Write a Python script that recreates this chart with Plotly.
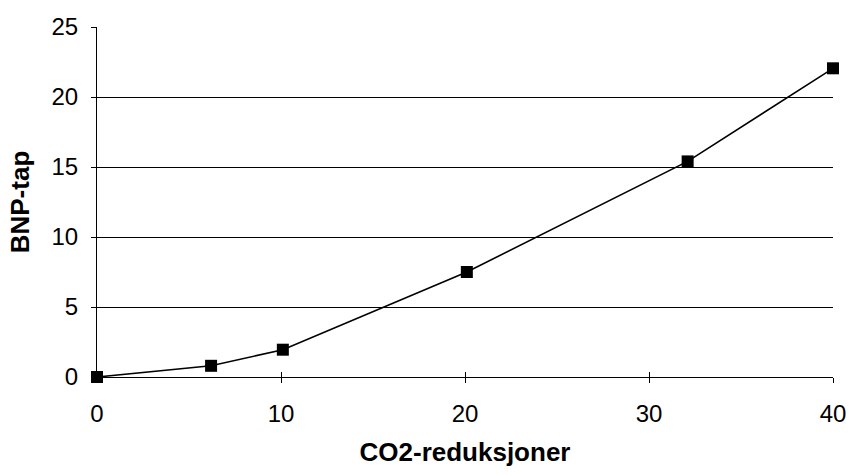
import plotly.graph_objects as go

# CO2 reductions vs. GDP loss
co2_reduction = [0, 6.2, 10.1, 20.1, 32.1, 40]
gdp_loss = [0, 0.8, 1.95, 7.5, 15.4, 22.05]

x_ticks = [0, 10, 20, 30, 40]
y_ticks = [0, 5, 10, 15, 20, 25]

FONT = "Century Gothic, Liberation Sans, Arial, sans-serif"

fig = go.Figure()
fig.add_trace(go.Scatter(
    x=co2_reduction,
    y=gdp_loss,
    mode="lines+markers",
    line=dict(color="black", width=1.6),
    marker=dict(symbol="square", size=12, color="black"),
    cliponaxis=False,
    showlegend=False,
))

fig.update_layout(
    width=850,
    height=476,
    margin=dict(l=97, r=17, t=27, b=99),
    paper_bgcolor="white",
    plot_bgcolor="white",
    font=dict(family=FONT, color="black", size=24),
    xaxis=dict(
        range=[0, 40],
        tickvals=x_ticks,
        ticks="outside",
        ticklen=5,
        tickcolor="black",
        tickwidth=1,
        showgrid=False,
        zeroline=False,
        showline=True,
        linecolor="black",
        linewidth=1,
        automargin=False,
        ticklabelstandoff=10,
        tickfont=dict(size=24),
        title=dict(text="<b>CO2-reduksjoner</b>", font=dict(size=26), standoff=17),
    ),
    # overlay axis that supplies the upper half of the crossing tick marks
    xaxis2=dict(
        range=[0, 40],
        tickvals=x_ticks,
        overlaying="x",
        side="bottom",
        ticks="inside",
        ticklen=5,
        tickcolor="black",
        tickwidth=1,
        showticklabels=False,
        showgrid=False,
        zeroline=False,
        showline=False,
        automargin=False,
    ),
    yaxis=dict(
        range=[0, 25],
        tickvals=y_ticks,
        ticks="outside",
        ticklen=5,
        tickcolor="black",
        tickwidth=1,
        showgrid=True,
        gridcolor="black",
        gridwidth=1,
        zeroline=False,
        showline=True,
        linecolor="black",
        linewidth=1,
        automargin=False,
        ticklabelstandoff=8,
        tickfont=dict(size=24),
        title=dict(text="<b>BNP-tap</b>", font=dict(size=26), standoff=14),
    ),
)

# invisible trace to bind the overlay axis
fig.add_trace(go.Scatter(x=[co2_reduction[0]], y=[gdp_loss[0]], xaxis="x2",
                         mode="markers", marker=dict(opacity=0),
                         hoverinfo="skip", showlegend=False))

fig.write_html("out.html")
